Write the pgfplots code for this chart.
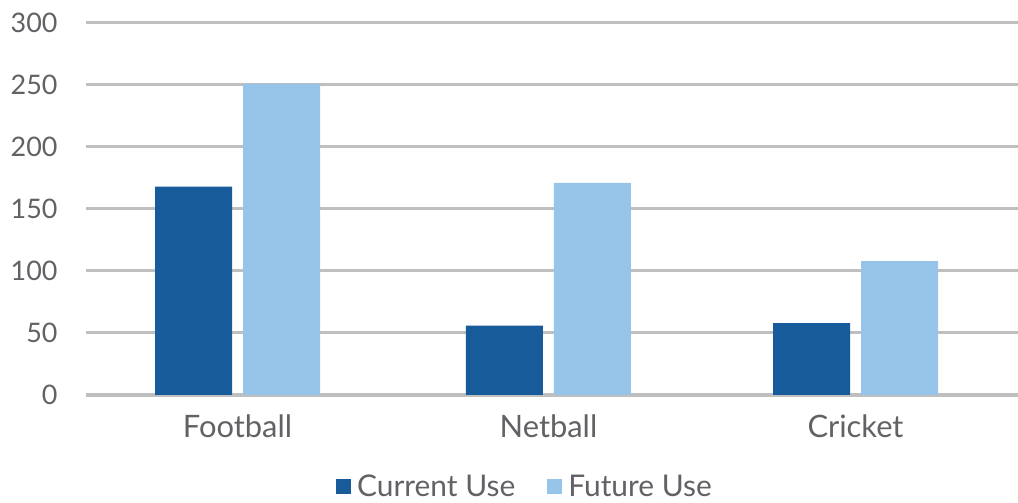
\documentclass[border=0pt]{standalone}
\usepackage{pgfplots}
\pgfplotsset{compat=1.18}
\usepackage{fontspec}
\setmainfont{Lato}
\definecolor{darkb}{RGB}{24,91,155}
\definecolor{lightb}{RGB}{151,197,233}
\definecolor{gridg}{RGB}{191,191,191}
\definecolor{txt}{RGB}{98,98,102}
\begin{document}
\begin{tikzpicture}
\useasboundingbox (0,0) rectangle (1018bp,503bp);
\begin{axis}[
  at={(86bp,108bp)}, anchor=south west,
  scale only axis, width=932bp, height=372bp,
  ybar, bar width=77bp,
  xmin=-0.5, xmax=2.5, ymin=0, ymax=300,
  xtick={-0.0123,0.9887,1.977}, xticklabels={Football,Netball,Cricket},
  ytick={0,50,...,300},
  axis line style={draw=none},
  tick style={draw=none},
  ymajorgrids, grid style={gridg, line width=3bp},
  yticklabel style={text=txt, font=\fontsize{27}{30}\selectfont, xshift=-25bp},
  xticklabel style={text=txt, font=\fontsize{31}{34}\selectfont, yshift=-12bp},
  /pgf/number format/assume math mode=true,
  legend style={draw=none, at={(0.471,-0.247)}, anchor=center, legend columns=2,
    font=\fontsize{30}{33}\selectfont, text=txt,
    /tikz/every even column/.append style={column sep=30bp}},
  legend image code/.code={\fill[#1] (0bp,-7bp) rectangle (15bp,8bp); \path (19bp,0bp);},
]
\addplot[fill=darkb, draw=none, bar shift=-44bp] coordinates {(-0.0123,168) (0.9887,56) (1.977,58)};
\addplot[fill=lightb, draw=none, bar shift=44bp] coordinates {(-0.0123,251) (0.9887,171) (1.977,108)};
\legend{Current Use, Future Use}
\end{axis}
\end{tikzpicture}
\end{document}
